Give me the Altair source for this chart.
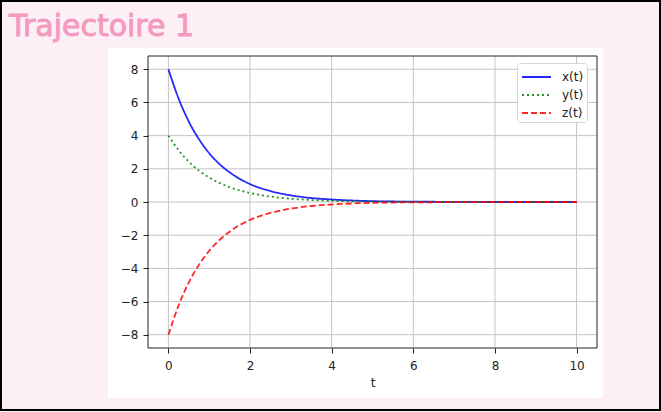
import altair as alt
import pandas as pd

# ---- data ----
t_vals = [0, 0.25, 0.5, 0.75, 1, 1.25, 1.5, 1.75, 2, 2.5, 3, 3.5, 4, 4.5, 5, 6, 7, 8, 9, 10]
x_vals = [8.0, 6.23, 4.85, 3.78, 2.94, 2.29, 1.79, 1.39, 1.08, 0.66, 0.40, 0.24, 0.15, 0.09, 0.05, 0.02, 0.01, 0.0, 0.0, 0.0]
y_vals = [4.0, 3.12, 2.43, 1.89, 1.47, 1.15, 0.89, 0.70, 0.54, 0.33, 0.20, 0.12, 0.07, 0.04, 0.03, 0.01, 0.0, 0.0, 0.0, 0.0]
z_vals = [-8.0, -6.23, -4.85, -3.78, -2.94, -2.29, -1.79, -1.39, -1.08, -0.66, -0.40, -0.24, -0.15, -0.09, -0.05, -0.02, -0.01, 0.0, 0.0, 0.0]
series_names = ["x(t)", "y(t)", "z(t)"]
x_ticks = [0, 2, 4, 6, 8, 10]
y_ticks = [-8, -6, -4, -2, 0, 2, 4, 6, 8]
title_text = "Trajectoire 1"
x_label = "t"

rows = []
for name, vals in zip(series_names, [x_vals, y_vals, z_vals]):
    for t, v in zip(t_vals, vals):
        rows.append({"t": t, "v": v, "series": name})
df = pd.DataFrame(rows)

PL, PT = 148, 56
W, H = 449, 292
xs = alt.Scale(domain=[-0.5, 10.5], nice=False, zero=False)
ys = alt.Scale(domain=[-8.8, 8.8], nice=False, zero=False)

ax_x = alt.Axis(values=x_ticks, title=x_label, grid=False, zindex=1,
                domain=False, tickColor="#222", tickSize=5, labelPadding=7,
                labelFontSize=12, labelColor="#222", titleFontSize=12,
                titleFontWeight="normal", titleColor="#222", titlePadding=6,
                labelFont="DejaVu Sans", titleFont="DejaVu Sans")
ax_y = alt.Axis(values=y_ticks, title=None, grid=False, zindex=1,
                domain=False, tickColor="#222", tickSize=5, labelPadding=5,
                labelFontSize=12, labelColor="#222", labelFont="DejaVu Sans",
                labelExpr="replace(datum.label, '-', '\u2212')")

one = pd.DataFrame({"a": [0]})

white = alt.Chart(one).mark_rect(color="white").encode(
    x=alt.value(108 - PL), x2=alt.value(603 - PL),
    y=alt.value(48 - PT), y2=alt.value(398 - PT))

frame = alt.Chart(one).mark_rect(fillOpacity=0, stroke="black", strokeWidth=2).encode(
    x=alt.value(1 - PL), x2=alt.value(660 - PL),
    y=alt.value(1 - PT), y2=alt.value(410 - PT))

plotbox = alt.Chart(one).mark_rect(fillOpacity=0, stroke="#222", strokeWidth=1).encode(
    x=alt.value(0), x2=alt.value(W), y=alt.value(0), y2=alt.value(H))

title = alt.Chart(one).mark_text(align="left", baseline="alphabetic", fontSize=30,
                                  font="DejaVu Sans", color="#f49ac1", stroke="#f49ac1",
                                  strokeWidth=0.9).encode(
    x=alt.value(9 - PL), y=alt.value(36 - PT), text=alt.value(title_text))

gx = alt.Chart(pd.DataFrame({"t": x_ticks})).mark_rule(color="#c4c4c4", strokeWidth=1).encode(
    x=alt.X("t:Q", scale=xs, axis=ax_x))
gy = alt.Chart(pd.DataFrame({"v": y_ticks})).mark_rule(color="#c4c4c4", strokeWidth=1).encode(
    y=alt.Y("v:Q", scale=ys, axis=ax_y))

lines = alt.Chart(df).mark_line(strokeWidth=1.8, opacity=0.85, interpolate="monotone").encode(
    x=alt.X("t:Q", scale=xs, axis=ax_x),
    y=alt.Y("v:Q", scale=ys, axis=ax_y),
    color=alt.Color("series:N", scale=alt.Scale(domain=series_names, range=["#0000ff", "#008000", "#ff0000"]),
                    legend=alt.Legend(title=None)),
    strokeDash=alt.StrokeDash("series:N", scale=alt.Scale(domain=series_names, range=[[1, 0], [2, 3], [6, 3]]),
                              legend=alt.Legend(title=None)),
    detail="series:N",
)

chart = alt.layer(white, frame, title, gx, gy, lines, plotbox).properties(
    width=W, height=H,
    padding={"left": PL, "top": PT, "right": 661 - PL - W, "bottom": 412 - PT - H},
    autosize=alt.AutoSizeParams(type="none"),
    background="#fdf0f5",
).configure_view(stroke=None).configure_legend(
    orient="none", legendX=369, legendY=7, fillColor="white", strokeColor="#d6d6d6",
    padding=3, cornerRadius=3, symbolType="M-0.9,0H2", symbolSize=400, symbolStrokeWidth=1.8,
    symbolOpacity=0.85, labelFontSize=12, labelFont="DejaVu Sans", labelColor="#222",
    rowPadding=1, labelOffset=20,
)

chart.save("out.html", embed_options={"renderer": "svg", "actions": False})
